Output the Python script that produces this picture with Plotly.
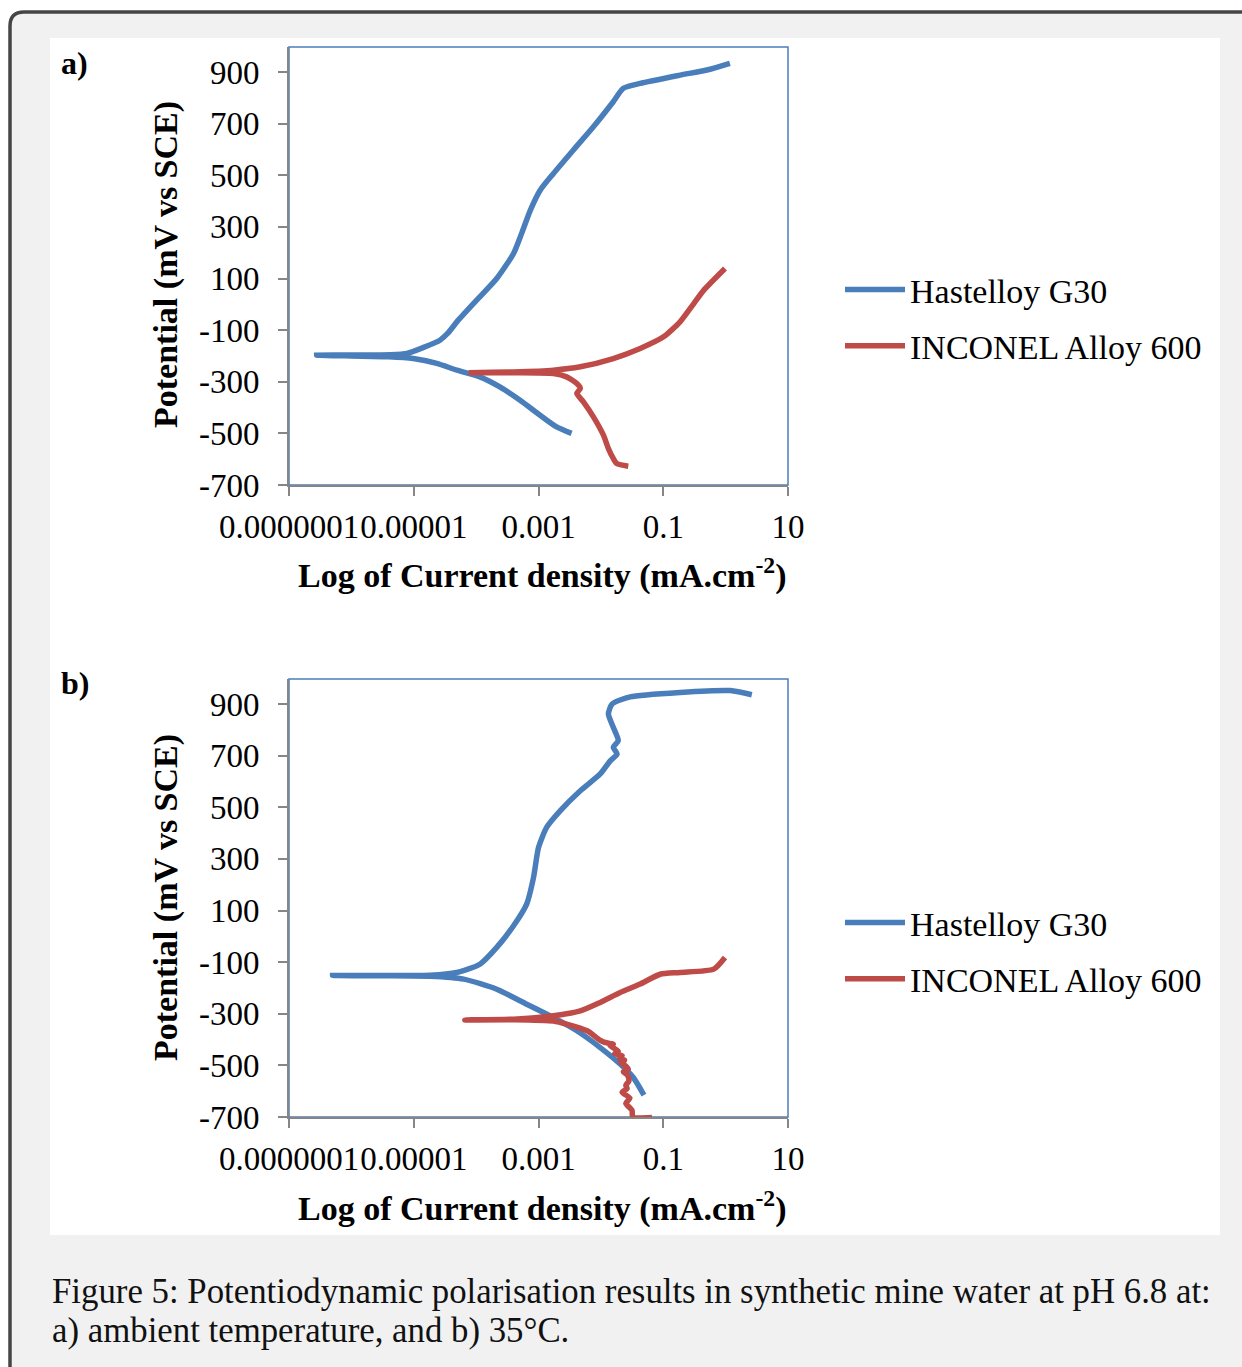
import plotly.graph_objects as go

# ---------------- DATA ----------------
# Panel a) ambient temperature
a_hast_i = [3.39e-3, 1.95e-3, 1.05e-3, 5.0e-4, 2.4e-4, 1.15e-4, 4.9e-5, 2.34e-5, 9.8e-6, 4.0e-6, 1.0e-6, 2.78e-7,
            1.0e-6, 4.2e-6, 7.8e-6, 1.43e-5, 2.63e-5, 3.55e-5, 4.9e-5, 1.02e-4, 2.14e-4, 3.98e-4, 5.37e-4, 7.41e-4,
            1.07e-3, 1.74e-3, 3.63e-3, 7.59e-3, 1.58e-2, 2.29e-2, 4.27e-2, 0.186, 0.50, 1.17]
a_hast_e = [-500, -475, -429, -371, -320, -281, -255, -229, -210, -203, -200, -197,
            -196, -195, -190, -167, -139, -111, -68, 16, 100, 197, 275, 365,
            443, 507, 598, 688, 785, 837, 856, 888, 908, 934]
a_inc_i = [2.75e-2, 1.8e-2, 1.58e-2, 1.32e-2, 1.1e-2, 7.59e-3, 5.25e-3, 4.12e-3, 4.68e-3, 4.12e-3, 2.82e-3, 1.74e-3,
           3.98e-4, 7.6e-5, 3.98e-4, 1.74e-3, 4.68e-3, 1.58e-2, 4.27e-2, 0.101, 0.186, 0.309, 0.447, 0.977]
a_inc_e = [-627, -617, -597, -559, -507, -436, -378, -345, -326, -307, -281, -268,
           -265, -265, -262, -255, -242, -210, -171, -126, -68, 3, 55, 139]

# Panel b) 35 °C
b_hast_i = [4.9e-2, 3.31e-2, 2.04e-2, 9.77e-3, 4.12e-3, 1.74e-3, 6.46e-4, 2.14e-4, 6.3e-5, 1.82e-5, 3.2e-6, 5.0e-7,
            3.2e-6, 1.82e-5, 4.9e-5, 1.15e-4, 2.14e-4, 3.98e-4, 6.46e-4, 8.32e-4, 1.0e-3, 1.35e-3, 2.24e-3, 4.68e-3,
            9.77e-3, 1.41e-2, 1.82e-2, 1.58e-2, 1.9e-2, 1.58e-2, 1.32e-2, 1.51e-2, 2.95e-2, 0.186, 1.19, 2.63]
b_hast_e = [-615, -547, -495, -431, -366, -315, -263, -205, -166, -155, -153, -152,
            -152, -151, -140, -108, -43, 41, 125, 228, 344, 422, 487, 564,
            629, 680, 706, 732, 758, 810, 861, 900, 928, 945, 952, 936]
b_inc_i = [6.6e-2, 3.24e-2, 3.16e-2, 2.51e-2, 2.92e-2, 2.19e-2, 2.63e-2, 2.51e-2, 2.82e-2, 2.69e-2, 2.29e-2,
           2.75e-2, 2.4e-2, 2.09e-2, 2.4e-2, 2.0e-2, 2.19e-2, 1.66e-2, 1.9e-2, 1.38e-2, 1.58e-2, 1.12e-2,
           9.6e-3, 6.03e-3, 2.82e-3, 1.74e-3, 3.98e-4, 6.6e-5,
           3.98e-4, 1.74e-3, 4.68e-3, 9.77e-3, 2.04e-2, 4.27e-2, 8.9e-2, 0.186, 0.646, 0.977]
b_inc_e = [-702, -700, -674, -647, -627, -604, -590, -577, -560, -538, -525,
           -515, -499, -490, -480, -472, -462, -455, -445, -422, -418, -410,
           -402, -366, -340, -328, -323, -324,
           -321, -308, -289, -256, -218, -185, -147, -140, -127, -82]

series_names = ["Hastelloy G30", "INCONEL Alloy 600"]
series_colors = ["#4A7EBB", "#BE4B48"]
x_tickvals = [1e-7, 1e-5, 1e-3, 0.1, 10]
x_ticktext = ["0.0000001", "0.00001", "0.001", "0.1", "10"]
y_tickvals = [-700, -500, -300, -100, 100, 300, 500, 700, 900]
y_ticktext = ["-700", "-500", "-300", "-100", "100", "300", "500", "700", "900"]
x_title = "<b>Log of Current density (mA.cm<sup>-2</sup>)</b>"
y_title = "<b>Potential (mV vs SCE)</b>"
panel_labels = ["a)", "b)"]
caption_lines = ["Figure 5: Potentiodynamic polarisation results in synthetic mine water at pH 6.8 at:",
                 "a) ambient temperature, and b) 35°C."]

# ---------------- LAYOUT HELPERS ----------------
W, H = 1242, 1367
def px(x):
    return x / W
def py(y):
    return 1 - y / H

FONT = "Liberation Serif"
fig = go.Figure()

panels = [
    dict(xa="x", ya="y", data=[(a_hast_i, a_hast_e), (a_inc_i, a_inc_e)], legend="legend"),
    dict(xa="x2", ya="y2", data=[(b_hast_i, b_hast_e), (b_inc_i, b_inc_e)], legend="legend2"),
]
for p in panels:
    for k, (xi, ye) in enumerate(p["data"]):
        fig.add_trace(go.Scatter(
            x=xi, y=ye, mode="lines", name=series_names[k],
            line=dict(color=series_colors[k], width=5.5, shape="spline", smoothing=0.6),
            xaxis=p["xa"], yaxis=p["ya"], legend=p["legend"], legendgroup=str(k),
            hoverinfo="skip"))

x_dom = [px(289), px(788)]
y_doms = [[py(485), py(47)], [py(1117), py(679)]]
axis_common_x = dict(type="log", range=[-7, 1], tickvals=x_tickvals, ticktext=x_ticktext,
                     ticks="outside", ticklen=9, tickwidth=2, tickcolor="#868686", tickangle=0,
                     showline=True, linecolor="#868686", linewidth=2, showgrid=False, zeroline=False,
                     tickfont=dict(family=FONT, size=33, color="black"), domain=x_dom,
                     ticklabelstandoff=2, automargin=False)
axis_common_y = dict(range=[-700, 997], tickvals=y_tickvals, ticktext=y_ticktext,
                     ticks="outside", ticklen=9, tickwidth=2, tickcolor="#868686",
                     showline=True, linecolor="#868686", linewidth=2, showgrid=False, zeroline=False,
                     tickfont=dict(family=FONT, size=33, color="black"), ticklabelstandoff=12,
                     automargin=False)

legend_common = dict(xanchor="left", yanchor="top", bgcolor="rgba(0,0,0,0)",
                     font=dict(family=FONT, size=34, color="black"), itemwidth=60,
                     tracegroupgap=9, traceorder="grouped")
fig.update_layout(
    width=W, height=H, margin=dict(l=0, r=0, t=0, b=0, pad=0, autoexpand=False),
    paper_bgcolor="white", plot_bgcolor="rgba(0,0,0,0)",
    xaxis=dict(axis_common_x, anchor="y"),
    yaxis=dict(axis_common_y, anchor="x", domain=y_doms[0]),
    xaxis2=dict(axis_common_x, anchor="y2"),
    yaxis2=dict(axis_common_y, anchor="x2", domain=y_doms[1]),
    legend=dict(legend_common, x=px(840), y=py(261)),
    legend2=dict(legend_common, x=px(840), y=py(894)),
)

# background frame (fill + left/top border)
r = 14
fill_path = (f"M {px(10)},0 L {px(10)},{py(12 + r)} "
             f"Q {px(10)},{py(12)} {px(10 + r)},{py(12)} L 1,{py(12)} L 1,0 Z")
border_path = (f"M {px(10)},0 L {px(10)},{py(12 + r)} "
               f"Q {px(10)},{py(12)} {px(10 + r)},{py(12)} L 1,{py(12)}")
shapes = [
    dict(type="path", xref="paper", yref="paper", path=fill_path,
         fillcolor="#F1F1F1", line=dict(width=0), layer="below"),
    dict(type="path", xref="paper", yref="paper", path=border_path,
         fillcolor="rgba(0,0,0,0)", line=dict(color="#454545", width=3.5), layer="below"),
    dict(type="rect", xref="paper", yref="paper", x0=px(50), x1=px(1220), y0=py(1235), y1=py(38),
         fillcolor="white", line=dict(width=0), layer="below"),
]
for xa, ya in [("x", "y"), ("x2", "y2")]:
    shapes.append(dict(type="rect", xref=f"{xa} domain", yref=f"{ya} domain", x0=0, x1=1, y0=0, y1=1,
                       line=dict(color="#4A7EBB", width=1.5), fillcolor="rgba(0,0,0,0)", layer="below"))
fig.update_layout(shapes=shapes)

annotations = []
for i, (lab_y, ytitle_c, xtitle_c) in enumerate([(63, 265, 573), (683, 898, 1206)]):
    annotations.append(dict(text=f"<b>{panel_labels[i]}</b>", x=px(59), y=py(lab_y), xref="paper", yref="paper",
                            xanchor="left", yanchor="middle", showarrow=False,
                            font=dict(family=FONT, size=32, color="black")))
    annotations.append(dict(text=y_title, x=px(166), y=py(ytitle_c), xref="paper", yref="paper",
                            xanchor="center", yanchor="middle", textangle=-90, showarrow=False,
                            font=dict(family=FONT, size=34, color="black")))
    annotations.append(dict(text=x_title, x=px(542), y=py(xtitle_c), xref="paper", yref="paper",
                            xanchor="center", yanchor="middle", showarrow=False,
                            font=dict(family=FONT, size=34, color="black")))
for j, (line, yy) in enumerate(zip(caption_lines, [1291, 1330])):
    annotations.append(dict(text=line, x=px(50), y=py(yy), xref="paper", yref="paper",
                            xanchor="left", yanchor="middle", showarrow=False,
                            font=dict(family=FONT, size=34.8, color="#111111")))
fig.update_layout(annotations=annotations)

fig.write_html("out.html", config={"displayModeBar": False},
               post_script="document.body.style.margin='0';document.body.style.padding='0';"
                           "document.body.style.overflow='hidden';")
